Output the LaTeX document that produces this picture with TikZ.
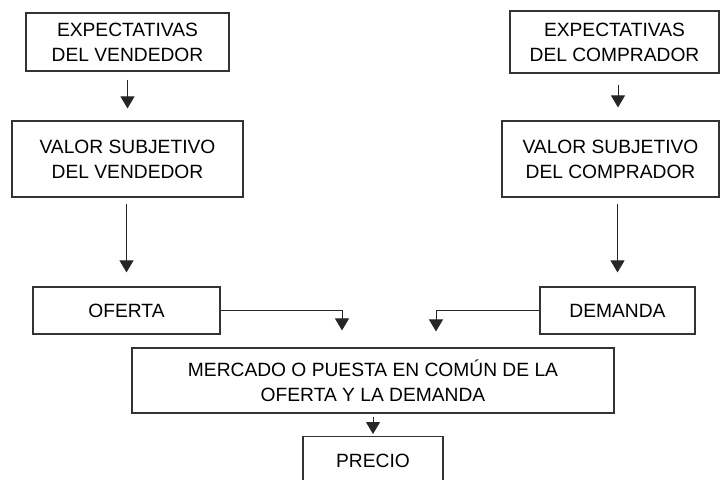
\documentclass[tikz,border=0pt]{standalone}
\usepackage{fontspec}
\setmainfont{Liberation Sans}
\usetikzlibrary{positioning,arrows.meta}

\begin{document}
\begin{tikzpicture}[
	bloque/.style = { draw=black!80, line width=1pt, inner sep=0pt,
			font=\fontsize{16.4}{21.3}\selectfont, align=center },
	flecha/.style = { ->, draw=black!85, line width=0.85pt },
	>={Triangle[length=0.36cm, width=0.42cm]}]

  \clip (0,0) rectangle (21.6,-14.37);

  \node[name=vexp, bloque, minimum width=6.09cm, minimum height=1.74cm]
	at (3.825,-1.26) {EXPECTATIVAS\\DEL VENDEDOR};
  \node[name=cexp, bloque, minimum width=6.27cm, minimum height=1.86cm]
	at (18.435,-1.26) {EXPECTATIVAS\\DEL COMPRADOR};

  \node[name=vval, bloque, minimum width=6.93cm, minimum height=2.28cm]
	at (3.825,-4.77) {VALOR SUBJETIVO\\DEL VENDEDOR};
  \node[name=cval, bloque, minimum width=6.51cm, minimum height=2.28cm]
	at (18.315,-4.77) {VALOR SUBJETIVO\\DEL COMPRADOR};

  \node[name=oferta, bloque, minimum width=5.61cm, minimum height=1.41cm]
	at (3.795,-9.315) {OFERTA};
  \node[name=demanda, bloque, minimum width=4.65cm, minimum height=1.41cm]
	at (18.525,-9.315) {DEMANDA};

  \node[name=mercado, bloque, minimum width=14.46cm, minimum height=1.95cm]
	at (11.19,-11.415)
	{MERCADO O PUESTA EN COMÚN DE LA\\OFERTA Y LA DEMANDA};
  \node[name=precio, bloque, anchor=north, minimum width=4.2cm,
	minimum height=1.44cm] at (11.19,-13.08) {PRECIO};

  \draw [flecha, shorten <=0.24cm, shorten >=0.36cm] (vexp) -- (vval);
  \draw [flecha, shorten <=0.33cm, shorten >=0.39cm]
	([xshift=0.105cm]cexp.south) -- ([xshift=0.105cm]cexp.south |- cval.north);
  \draw [flecha, shorten <=0.18cm, shorten >=0.42cm]
	(oferta |- vval.south) -- (oferta.north);
  \draw [flecha, shorten <=0.18cm, shorten >=0.42cm]
	(demanda |- cval.south) -- (demanda.north);

  \draw [flecha, shorten >=0.51cm]
	(oferta.east) -| ([xshift=-0.93cm]mercado.north);
  \draw [flecha, shorten >=0.48cm]
	(demanda.west) -| ([xshift=1.89cm]mercado.north);
  \draw [flecha, shorten <=0.09cm, shorten >=0.06cm]
	(mercado.south) -- (precio.north);
\end{tikzpicture}
\end{document}
